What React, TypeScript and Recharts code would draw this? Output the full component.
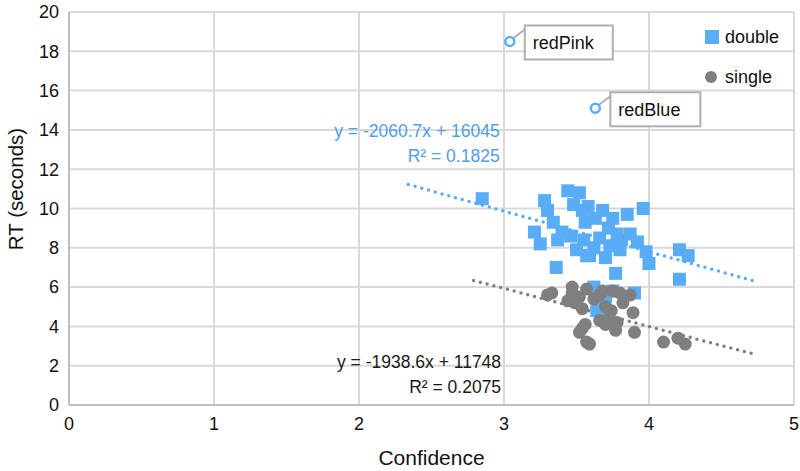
import {
  ScatterChart,
  Scatter,
  XAxis,
  YAxis,
  CartesianGrid,
  ReferenceLine,
} from 'recharts'

const FONT = '"Liberation Sans", Arial, Helvetica, sans-serif'
const BLUE = '#59adf6'
const GRAY = '#7f7f7f'

// confidence / RT (seconds)
const doubleX = [2.85, 3.21, 3.25, 3.28, 3.3, 3.34, 3.37, 3.36, 3.4, 3.44, 3.48, 3.52, 3.54, 3.56, 3.55, 3.59, 3.63, 3.66, 3.72, 3.73, 3.75, 3.78, 3.8, 3.81, 3.85, 3.87, 3.77, 3.75, 3.64, 3.7, 3.96, 3.98, 4.0, 4.21, 4.27, 4.21, 3.5, 3.62, 3.68, 3.58, 3.46, 3.92, 3.9, 3.7, 3.57, 3.62, 3.68]
const doubleY = [10.5, 8.8, 8.2, 10.4, 9.9, 9.3, 8.4, 7.0, 8.8, 10.9, 10.2, 10.8, 9.9, 9.3, 8.4, 7.6, 9.5, 8.5, 9.0, 8.1, 9.5, 8.7, 7.9, 8.4, 9.7, 8.7, 6.7, 5.8, 4.8, 5.5, 10.0, 7.8, 7.2, 7.9, 7.6, 6.4, 7.9, 8.0, 9.9, 10.1, 8.6, 8.3, 5.7, 7.5, 7.6, 6.0, 4.9]

const singleX = [3.3, 3.33, 3.47, 3.47, 3.44, 3.49, 3.54, 3.57, 3.52, 3.66, 3.68, 3.75, 3.8, 3.87, 3.74, 3.7, 3.66, 3.78, 3.72, 3.56, 3.52, 3.54, 3.57, 3.59, 3.89, 3.9, 3.77, 3.7, 4.1, 4.2, 4.25, 3.62, 3.82]
const singleY = [5.6, 5.7, 6.0, 5.7, 5.3, 5.2, 4.9, 5.9, 5.5, 5.6, 5.8, 5.8, 5.7, 5.6, 4.8, 5.0, 4.3, 4.2, 4.4, 4.1, 3.7, 3.9, 3.2, 3.1, 4.7, 3.7, 3.8, 4.1, 3.2, 3.4, 3.1, 5.4, 5.2]

const noteNames = ['redPink', 'redBlue']
const noteX = [3.04, 3.63]
const noteY = [18.5, 15.1]

const seriesNames = ['double', 'single']

// trendlines (coefficients in ms, as printed on the chart)
const blueFit = { slope: -2060.7, icept: 16045, r2: 0.1825, from: 2.34, to: 4.74 }
const grayFit = { slope: -1938.6, icept: 11748, r2: 0.2075, from: 2.79, to: 4.74 }
const eqAnchorX = [2.97, 2.98]
const eqAnchorY = [13.65, 1.9]

const xTicks = [0, 1, 2, 3, 4, 5]
const yTicks = [0, 2, 4, 6, 8, 10, 12, 14, 16, 18, 20]

const doubleData = doubleX.map((x, i) => ({ x, y: doubleY[i] }))
const singleData = singleX.map((x, i) => ({ x, y: singleY[i] }))
const noteData = noteNames.map((name, i) => ({ x: noteX[i], y: noteY[i], name }))

const fitY = (f: typeof blueFit, x: number) => (f.slope * x + f.icept) / 1000
const fmtEq = (f: typeof blueFit) => `y = ${f.slope}x + ${f.icept}`

const eqData = [
  { x: eqAnchorX[0], y: eqAnchorY[0], eq: fmtEq(blueFit), r2: `R² = ${blueFit.r2}`, color: '#4f9ee8' },
  { x: eqAnchorX[1], y: eqAnchorY[1], eq: fmtEq(grayFit), r2: `R² = ${grayFit.r2}`, color: '#1a1a1a' },
]

const SquareDot = (props: any) => {
  const { cx, cy } = props
  return <rect x={cx - 6.5} y={cy - 6.5} width={13} height={13} fill={BLUE} />
}

const RoundDot = (props: any) => {
  const { cx, cy } = props
  return <circle cx={cx} cy={cy} r={6.5} fill={GRAY} />
}

const NoteShape = (props: any) => {
  const { cx, cy, payload } = props
  const w = payload.name === 'redPink' ? 88 : 90
  return (
    <g>
      <line x1={cx + 3} y1={cy - 3} x2={cx + 15} y2={cy - 12} stroke="#b0b0b0" strokeWidth={2} />
      <rect x={cx + 15} y={cy - 16} width={w} height={34} fill="#fff" stroke="#b0b0b0" strokeWidth={2} />
      <text x={cx + 23} y={cy + 7.5} fontSize={18} fill="#111" fontFamily={FONT}>
        {payload.name}
      </text>
      <circle cx={cx} cy={cy} r={4.5} fill="#fff" stroke={BLUE} strokeWidth={2.5} />
    </g>
  )
}

const EqShape = (props: any) => {
  const { cx, cy, payload } = props
  return (
    <g fontFamily={FONT} fontSize={17.5} fill={payload.color}>
      <text x={cx} y={cy} textAnchor="end">{payload.eq}</text>
      <text x={cx} y={cy + 25} textAnchor="end">{payload.r2}</text>
    </g>
  )
}

const tickStyle = { fontSize: 18, fill: '#111', fontFamily: FONT }

export default function App() {
  return (
    <div style={{ position: 'absolute', left: 0, top: 0, background: '#fff' }}>
      <ScatterChart width={800} height={471} margin={{ top: 12, right: 6, bottom: 26, left: 20 }}>
        <CartesianGrid stroke="#d9d9d9" strokeWidth={2} />
        <XAxis
          type="number"
          dataKey="x"
          domain={[0, 5]}
          ticks={xTicks}
          tick={tickStyle}
          tickLine={false}
          tickMargin={6}
          axisLine={{ stroke: '#bfbfbf', strokeWidth: 2 }}
          height={40}
          label={{ value: 'Confidence', position: 'insideBottom', offset: -20, style: { fontSize: 21, fill: '#111', fontFamily: FONT } }}
        />
        <YAxis
          type="number"
          dataKey="y"
          domain={[0, 20]}
          ticks={yTicks}
          tick={tickStyle}
          tickLine={false}
          tickMargin={4}
          axisLine={{ stroke: '#bfbfbf', strokeWidth: 2 }}
          width={49}
          label={{
            content: () => (
              <text
                transform="translate(23,189) rotate(-90)"
                textAnchor="middle"
                fontSize={20.5}
                fill="#111"
                fontFamily={FONT}
              >
                RT (seconds)
              </text>
            ),
          }}
        />
        <ReferenceLine
          segment={[
            { x: blueFit.from, y: fitY(blueFit, blueFit.from) },
            { x: blueFit.to, y: fitY(blueFit, blueFit.to) },
          ]}
          stroke={BLUE}
          strokeWidth={3.5}
          strokeDasharray="0 7"
          strokeLinecap="round"
        />
        <ReferenceLine
          segment={[
            { x: grayFit.from, y: fitY(grayFit, grayFit.from) },
            { x: grayFit.to, y: fitY(grayFit, grayFit.to) },
          ]}
          stroke={GRAY}
          strokeWidth={3.5}
          strokeDasharray="0 7"
          strokeLinecap="round"
        />
        <Scatter name="double" data={doubleData} shape={SquareDot} isAnimationActive={false} />
        <Scatter name="single" data={singleData} shape={RoundDot} isAnimationActive={false} />
        <Scatter name="notes" data={noteData} shape={NoteShape} isAnimationActive={false} />
        <Scatter name="eq" data={eqData} shape={EqShape} isAnimationActive={false} />
      </ScatterChart>
      <svg
        width={90}
        height={70}
        style={{ position: 'absolute', left: 704, top: 25, fontFamily: FONT }}
      >
        <rect x={1} y={5} width={14} height={14} fill={BLUE} />
        <text x={21} y={18} fontSize={18} fill="#111">{seriesNames[0]}</text>
        <circle cx={7} cy={52} r={6} fill={GRAY} />
        <text x={21} y={58} fontSize={18} fill="#111">{seriesNames[1]}</text>
      </svg>
    </div>
  )
}
